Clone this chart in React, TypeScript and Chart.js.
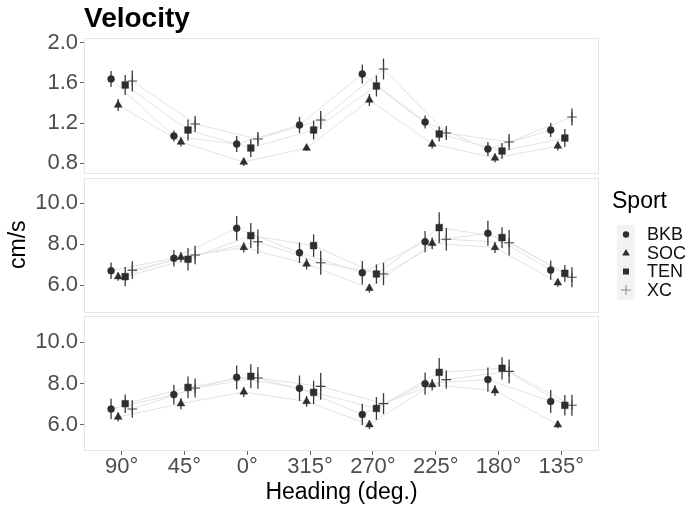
import React, { useEffect, useRef } from 'react';
import { Chart, registerables } from 'chart.js';

Chart.register(...registerables);

const FONT = "'Liberation Sans', Arial, Helvetica, sans-serif";

// ---------- data ----------
const headings = ['90°', '45°', '0°', '315°', '270°', '225°', '180°', '135°'];
const sports = ['BKB', 'SOC', 'TEN', 'XC'];

// top panel (means and half-width of error bars)
const p1BKB = [1.64, 1.07, 0.99, 1.18, 1.69, 1.21, 0.94, 1.13];
const p1SOC = [1.38, 1.01, 0.81, 0.95, 1.43, 0.99, 0.85, 0.97];
const p1TEN = [1.58, 1.13, 0.95, 1.13, 1.57, 1.09, 0.92, 1.05];
const p1XC = [1.62, 1.19, 1.04, 1.23, 1.74, 1.10, 1.01, 1.26];
const p1BKBerr = [0.08, 0.055, 0.08, 0.08, 0.095, 0.065, 0.07, 0.07];
const p1SOCerr = [0.06, 0.045, 0.04, 0.03, 0.06, 0.045, 0.045, 0.045];
const p1TENerr = [0.10, 0.105, 0.09, 0.095, 0.105, 0.075, 0.08, 0.09];
const p1XCerr = [0.105, 0.08, 0.07, 0.09, 0.105, 0.07, 0.08, 0.085];

// middle panel
const p2BKB = [6.70, 7.31, 8.78, 7.58, 6.60, 8.12, 8.53, 6.73];
const p2SOC = [6.41, 7.36, 7.84, 7.03, 5.84, 8.04, 7.84, 6.11];
const p2TEN = [6.41, 7.26, 8.42, 7.93, 6.54, 8.81, 8.32, 6.57];
const p2XC = [6.73, 7.47, 8.12, 7.09, 6.54, 8.24, 8.07, 6.38];
const p2BKBerr = [0.40, 0.40, 0.60, 0.50, 0.57, 0.52, 0.61, 0.47];
const p2SOCerr = [0.20, 0.25, 0.25, 0.27, 0.21, 0.29, 0.27, 0.20];
const p2TENerr = [0.47, 0.55, 0.61, 0.55, 0.47, 0.75, 0.51, 0.41];
const p2XCerr = [0.43, 0.45, 0.60, 0.59, 0.55, 0.55, 0.62, 0.49];

// bottom panel
const p3BKB = [6.76, 7.46, 8.30, 7.77, 6.49, 7.99, 8.19, 7.13];
const p3SOC = [6.37, 7.02, 7.59, 7.13, 6.00, 7.94, 7.65, 6.00];
const p3TEN = [7.02, 7.81, 8.35, 7.57, 6.79, 8.54, 8.74, 6.94];
const p3XC = [6.76, 7.78, 8.27, 7.86, 7.02, 8.19, 8.59, 6.94];
const p3BKBerr = [0.50, 0.48, 0.58, 0.62, 0.52, 0.54, 0.59, 0.56];
const p3SOCerr = [0.22, 0.27, 0.24, 0.26, 0.22, 0.28, 0.26, 0.18];
const p3TENerr = [0.45, 0.53, 0.58, 0.57, 0.55, 0.70, 0.54, 0.50];
const p3XCerr = [0.43, 0.46, 0.53, 0.65, 0.51, 0.44, 0.58, 0.51];

const p1Ticks = [0.8, 1.2, 1.6, 2.0];
const p23Ticks = [6, 8, 10];

// ---------- styling ----------
const dodge = [-0.169, -0.056, 0.056, 0.169];
const pointStyles = ['circle', 'triangle', 'rect', 'cross'];
const pointRadii = [3.5, 4.5, 4.7, 4.8];
const INK = '#2e2e2e';

type Panel = {
  means: number[][];
  errs: number[][];
  min: number;
  max: number;
  ticks: number[];
  top: number;
  bottom: number;
  showX: boolean;
  yTitle?: string;
  first?: boolean;
};

const panels: Panel[] = [
  { means: [p1BKB, p1SOC, p1TEN, p1XC], errs: [p1BKBerr, p1SOCerr, p1TENerr, p1XCerr], min: 0.69, max: 2.05, ticks: p1Ticks, top: 38, bottom: 174, showX: false, first: true },
  { means: [p2BKB, p2SOC, p2TEN, p2XC], errs: [p2BKBerr, p2SOCerr, p2TENerr, p2XCerr], min: 4.68, max: 11.26, ticks: p23Ticks, top: 177.5, bottom: 312, showX: false, yTitle: 'cm/s' },
  { means: [p3BKB, p3SOC, p3TEN, p3XC], errs: [p3BKBerr, p3SOCerr, p3TENerr, p3XCerr], min: 4.72, max: 11.28, ticks: p23Ticks, top: 316, bottom: 451, showX: true },
];

const panelPlugin = {
  id: 'panelDecor',
  beforeDatasetsDraw(chart: any) {
    const { ctx, chartArea: a } = chart;
    ctx.save();
    ctx.strokeStyle = '#e4e4e4';
    ctx.lineWidth = 1;
    ctx.strokeRect(Math.round(a.left) + 0.5, Math.round(a.top) + 0.5, Math.round(a.right - a.left) - 1, Math.round(a.bottom - a.top) - 1);
    ctx.restore();
    chart.$errDrawn = false;
  },
  beforeDatasetDraw(chart: any, args: any) {
    const ds = chart.data.datasets[args.index];
    if (!ds.errs || chart.$errDrawn) return;
    chart.$errDrawn = true;
    const { ctx } = chart;
    const xs = chart.scales.x;
    const ys = chart.scales.y;
    ctx.save();
    ctx.strokeStyle = '#3a3a3a';
    ctx.lineWidth = 1.3;
    chart.data.datasets.forEach((d: any) => {
      if (!d.errs) return;
      d.data.forEach((pt: any, i: number) => {
        const px = xs.getPixelForValue(pt.x);
        const y1 = ys.getPixelForValue(pt.y - d.errs[i]);
        const y2 = ys.getPixelForValue(pt.y + d.errs[i]);
        ctx.beginPath();
        ctx.moveTo(px, y1);
        ctx.lineTo(px, y2);
        ctx.stroke();
      });
    });
    ctx.restore();
  },
  afterDraw(chart: any) {
    if (!chart.options.plugins.panelDecor?.first) return;
    const { ctx } = chart;
    ctx.save();
    // main title
    ctx.fillStyle = '#000';
    ctx.font = `bold 28px ${FONT}`;
    ctx.textBaseline = 'alphabetic';
    ctx.textAlign = 'left';
    ctx.fillText('Velocity', 84, 27);
    // legend
    ctx.font = `23px ${FONT}`;
    ctx.textBaseline = 'middle';
    ctx.fillText('Sport', 612, 202);
    ctx.fillStyle = '#f2f2f2';
    ctx.fillRect(617, 225, 18, 74.5);
    const cy = [234.5, 253, 271.5, 290];
    const cx = 626;
    sports.forEach((s, i) => {
      const y = cy[i];
      ctx.fillStyle = INK;
      ctx.strokeStyle = INK;
      ctx.beginPath();
      if (i === 0) {
        ctx.arc(cx, y, 3.2, 0, Math.PI * 2);
        ctx.fill();
      } else if (i === 1) {
        ctx.moveTo(cx, y - 4);
        ctx.lineTo(cx + 3.8, y + 2.6);
        ctx.lineTo(cx - 3.8, y + 2.6);
        ctx.closePath();
        ctx.fill();
      } else if (i === 2) {
        ctx.fillRect(cx - 3, y - 3, 6, 6);
      } else {
        ctx.strokeStyle = '#888';
        ctx.lineWidth = 1;
        ctx.moveTo(cx - 5, y);
        ctx.lineTo(cx + 5, y);
        ctx.moveTo(cx, y - 5);
        ctx.lineTo(cx, y + 5);
        ctx.stroke();
      }
      ctx.fillStyle = '#111';
      ctx.font = `18px ${FONT}`;
      ctx.textAlign = 'left';
      ctx.fillText(s, 647, y + 1);
    });
    ctx.restore();
  },
};

function makeConfig(p: Panel): any {
  const datasets: any[] = [];
  sports.forEach((s, si) => {
    datasets.push({
      label: s + '-line',
      data: headings.map((_, i) => ({ x: i + dodge[si], y: p.means[si][i] })),
      showLine: true,
      borderColor: '#e3e3e3',
      borderWidth: 1,
      pointRadius: 0,
      order: 5,
    });
  });
  sports.forEach((s, si) => {
    datasets.push({
      label: s,
      data: headings.map((_, i) => ({ x: i + dodge[si], y: p.means[si][i] })),
      errs: p.errs[si],
      showLine: false,
      pointStyle: pointStyles[si],
      pointRadius: pointRadii[si],
      pointBackgroundColor: INK,
      pointBorderColor: si === 3 ? '#444' : INK,
      pointBorderWidth: si === 3 ? 1.1 : 0.5,
      order: 0,
    });
  });

  return {
    type: 'scatter',
    data: { datasets },
    plugins: [panelPlugin],
    options: {
      responsive: false,
      animation: false,
      devicePixelRatio: 1,
      events: [],
      layout: { padding: { left: 0, right: 101, top: p.top, bottom: p.showX ? 0 : 511 - p.bottom } },
      plugins: { legend: { display: false }, tooltip: { enabled: false }, panelDecor: { first: !!p.first } },
      scales: {
        x: {
          type: 'linear',
          display: p.showX,
          min: -0.6,
          max: 7.6,
          afterBuildTicks: (s: any) => { s.ticks = headings.map((_, i) => ({ value: i })); },
          afterFit: (s: any) => { s.height = p.showX ? 60 : 0; },
          ticks: {
            callback: (v: any) => headings[Math.round(Number(v))] ?? '',
            font: { family: FONT, size: 22, lineHeight: 1 },
            color: '#4d4d4d',
            padding: 1,
            maxRotation: 0,
            autoSkip: false,
          },
          grid: { drawOnChartArea: false, drawTicks: true, tickLength: 4, color: '#666', tickColor: '#666' },
          border: { display: false },
          title: {
            display: true,
            text: 'Heading (deg.)',
            color: '#000',
            font: { family: FONT, size: 23 },
            padding: { top: 0, bottom: 5 },
          },
        },
        y: {
          type: 'linear',
          min: p.min,
          max: p.max,
          afterBuildTicks: (s: any) => { s.ticks = p.ticks.map((v) => ({ value: v })); },
          afterFit: (s: any) => { s.width = 84; },
          ticks: {
            callback: (v: any) => Number(v).toFixed(1),
            font: { family: FONT, size: 22, lineHeight: 1 },
            color: '#4d4d4d',
            padding: 2,
          },
          grid: { drawOnChartArea: false, drawTicks: true, tickLength: 4, color: '#666', tickColor: '#666' },
          border: { display: false },
          title: {
            display: !!p.yTitle,
            text: p.yTitle || '',
            color: '#000',
            font: { family: FONT, size: 23 },
            padding: { top: 5, bottom: 0 },
          },
        },
      },
    },
  };
}

export default function App() {
  const r1 = useRef<HTMLCanvasElement>(null);
  const r2 = useRef<HTMLCanvasElement>(null);
  const r3 = useRef<HTMLCanvasElement>(null);

  useEffect(() => {
    const refs = [r1, r2, r3];
    const charts = panels.map((p, i) => new Chart(refs[i].current as HTMLCanvasElement, makeConfig(p)));
    return () => charts.forEach((c) => c.destroy());
  }, []);

  return (
    <div style={{ position: 'fixed', left: 0, top: 0, width: 700, height: 511, background: '#fff' }}>
      {[r1, r2, r3].map((r, i) => (
        <canvas key={i} ref={r} width={700} height={511} style={{ position: 'absolute', left: 0, top: 0 }} />
      ))}
    </div>
  );
}
